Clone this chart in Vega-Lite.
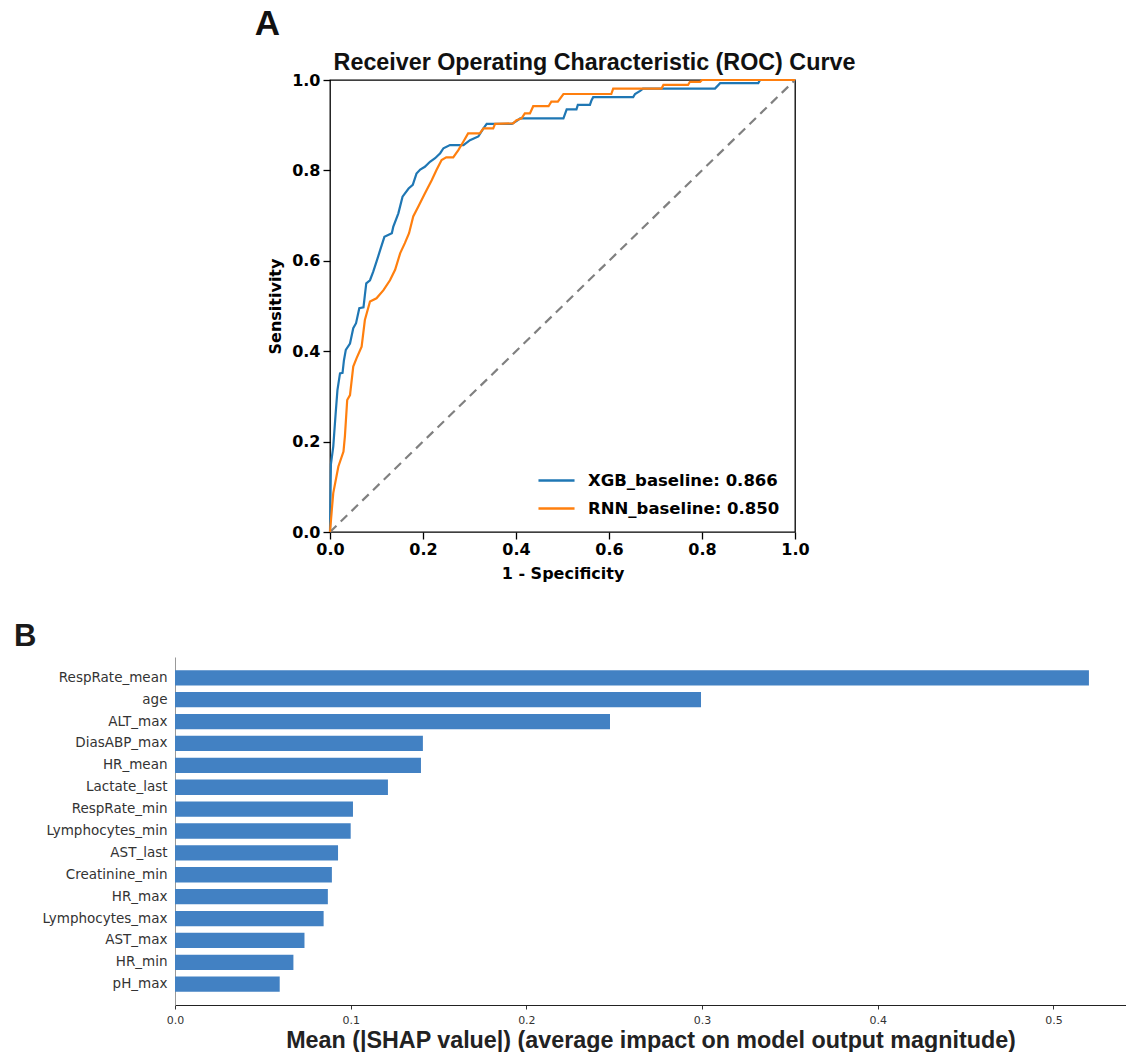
{
  "$schema": "https://vega.github.io/schema/vega-lite/v6.json",
  "background": "white",
  "padding": {"left": 14, "top": 7, "right": 0, "bottom": 0},
  "datasets": {
    "roc": [
      {"model": "XGB_baseline: 0.866", "fpr": 0.0, "tpr": 0.0},
      {"model": "XGB_baseline: 0.866", "fpr": 0.002, "tpr": 0.15},
      {"model": "XGB_baseline: 0.866", "fpr": 0.007, "tpr": 0.189},
      {"model": "XGB_baseline: 0.866", "fpr": 0.012, "tpr": 0.26},
      {"model": "XGB_baseline: 0.866", "fpr": 0.016, "tpr": 0.314},
      {"model": "XGB_baseline: 0.866", "fpr": 0.0215, "tpr": 0.351},
      {"model": "XGB_baseline: 0.866", "fpr": 0.027, "tpr": 0.352},
      {"model": "XGB_baseline: 0.866", "fpr": 0.03, "tpr": 0.38},
      {"model": "XGB_baseline: 0.866", "fpr": 0.034, "tpr": 0.403},
      {"model": "XGB_baseline: 0.866", "fpr": 0.043, "tpr": 0.417},
      {"model": "XGB_baseline: 0.866", "fpr": 0.05, "tpr": 0.451},
      {"model": "XGB_baseline: 0.866", "fpr": 0.056, "tpr": 0.462},
      {"model": "XGB_baseline: 0.866", "fpr": 0.063, "tpr": 0.495},
      {"model": "XGB_baseline: 0.866", "fpr": 0.072, "tpr": 0.497},
      {"model": "XGB_baseline: 0.866", "fpr": 0.075, "tpr": 0.524},
      {"model": "XGB_baseline: 0.866", "fpr": 0.078, "tpr": 0.55},
      {"model": "XGB_baseline: 0.866", "fpr": 0.086, "tpr": 0.557},
      {"model": "XGB_baseline: 0.866", "fpr": 0.093, "tpr": 0.576},
      {"model": "XGB_baseline: 0.866", "fpr": 0.1, "tpr": 0.598},
      {"model": "XGB_baseline: 0.866", "fpr": 0.108, "tpr": 0.624},
      {"model": "XGB_baseline: 0.866", "fpr": 0.117, "tpr": 0.653},
      {"model": "XGB_baseline: 0.866", "fpr": 0.133, "tpr": 0.661},
      {"model": "XGB_baseline: 0.866", "fpr": 0.136, "tpr": 0.675},
      {"model": "XGB_baseline: 0.866", "fpr": 0.147, "tpr": 0.705},
      {"model": "XGB_baseline: 0.866", "fpr": 0.156, "tpr": 0.742},
      {"model": "XGB_baseline: 0.866", "fpr": 0.169, "tpr": 0.76},
      {"model": "XGB_baseline: 0.866", "fpr": 0.178, "tpr": 0.768},
      {"model": "XGB_baseline: 0.866", "fpr": 0.186, "tpr": 0.793},
      {"model": "XGB_baseline: 0.866", "fpr": 0.194, "tpr": 0.802},
      {"model": "XGB_baseline: 0.866", "fpr": 0.204, "tpr": 0.808},
      {"model": "XGB_baseline: 0.866", "fpr": 0.215, "tpr": 0.819},
      {"model": "XGB_baseline: 0.866", "fpr": 0.226, "tpr": 0.827},
      {"model": "XGB_baseline: 0.866", "fpr": 0.237, "tpr": 0.838},
      {"model": "XGB_baseline: 0.866", "fpr": 0.244, "tpr": 0.849},
      {"model": "XGB_baseline: 0.866", "fpr": 0.258, "tpr": 0.856},
      {"model": "XGB_baseline: 0.866", "fpr": 0.287, "tpr": 0.856},
      {"model": "XGB_baseline: 0.866", "fpr": 0.301, "tpr": 0.867},
      {"model": "XGB_baseline: 0.866", "fpr": 0.319, "tpr": 0.875},
      {"model": "XGB_baseline: 0.866", "fpr": 0.33, "tpr": 0.893},
      {"model": "XGB_baseline: 0.866", "fpr": 0.337, "tpr": 0.903},
      {"model": "XGB_baseline: 0.866", "fpr": 0.391, "tpr": 0.903},
      {"model": "XGB_baseline: 0.866", "fpr": 0.401, "tpr": 0.909},
      {"model": "XGB_baseline: 0.866", "fpr": 0.409, "tpr": 0.915},
      {"model": "XGB_baseline: 0.866", "fpr": 0.502, "tpr": 0.915},
      {"model": "XGB_baseline: 0.866", "fpr": 0.509, "tpr": 0.935},
      {"model": "XGB_baseline: 0.866", "fpr": 0.53, "tpr": 0.935},
      {"model": "XGB_baseline: 0.866", "fpr": 0.533, "tpr": 0.945},
      {"model": "XGB_baseline: 0.866", "fpr": 0.559, "tpr": 0.945},
      {"model": "XGB_baseline: 0.866", "fpr": 0.562, "tpr": 0.954},
      {"model": "XGB_baseline: 0.866", "fpr": 0.566, "tpr": 0.962},
      {"model": "XGB_baseline: 0.866", "fpr": 0.652, "tpr": 0.962},
      {"model": "XGB_baseline: 0.866", "fpr": 0.656, "tpr": 0.969},
      {"model": "XGB_baseline: 0.866", "fpr": 0.667, "tpr": 0.976},
      {"model": "XGB_baseline: 0.866", "fpr": 0.673, "tpr": 0.981},
      {"model": "XGB_baseline: 0.866", "fpr": 0.828, "tpr": 0.981},
      {"model": "XGB_baseline: 0.866", "fpr": 0.839, "tpr": 0.993},
      {"model": "XGB_baseline: 0.866", "fpr": 0.921, "tpr": 0.993},
      {"model": "XGB_baseline: 0.866", "fpr": 0.925, "tpr": 1.0},
      {"model": "XGB_baseline: 0.866", "fpr": 1.0, "tpr": 1.0},
      {"model": "RNN_baseline: 0.850", "fpr": 0.0, "tpr": 0.0},
      {"model": "RNN_baseline: 0.850", "fpr": 0.004, "tpr": 0.05},
      {"model": "RNN_baseline: 0.850", "fpr": 0.007, "tpr": 0.086},
      {"model": "RNN_baseline: 0.850", "fpr": 0.018, "tpr": 0.145},
      {"model": "RNN_baseline: 0.850", "fpr": 0.029, "tpr": 0.178},
      {"model": "RNN_baseline: 0.850", "fpr": 0.032, "tpr": 0.211},
      {"model": "RNN_baseline: 0.850", "fpr": 0.037, "tpr": 0.292},
      {"model": "RNN_baseline: 0.850", "fpr": 0.043, "tpr": 0.303},
      {"model": "RNN_baseline: 0.850", "fpr": 0.05, "tpr": 0.366},
      {"model": "RNN_baseline: 0.850", "fpr": 0.057, "tpr": 0.384},
      {"model": "RNN_baseline: 0.850", "fpr": 0.068, "tpr": 0.41},
      {"model": "RNN_baseline: 0.850", "fpr": 0.075, "tpr": 0.469},
      {"model": "RNN_baseline: 0.850", "fpr": 0.086, "tpr": 0.51},
      {"model": "RNN_baseline: 0.850", "fpr": 0.1, "tpr": 0.517},
      {"model": "RNN_baseline: 0.850", "fpr": 0.115, "tpr": 0.535},
      {"model": "RNN_baseline: 0.850", "fpr": 0.129, "tpr": 0.557},
      {"model": "RNN_baseline: 0.850", "fpr": 0.14, "tpr": 0.58},
      {"model": "RNN_baseline: 0.850", "fpr": 0.151, "tpr": 0.617},
      {"model": "RNN_baseline: 0.850", "fpr": 0.161, "tpr": 0.639},
      {"model": "RNN_baseline: 0.850", "fpr": 0.17, "tpr": 0.661},
      {"model": "RNN_baseline: 0.850", "fpr": 0.179, "tpr": 0.698},
      {"model": "RNN_baseline: 0.850", "fpr": 0.19, "tpr": 0.72},
      {"model": "RNN_baseline: 0.850", "fpr": 0.204, "tpr": 0.749},
      {"model": "RNN_baseline: 0.850", "fpr": 0.219, "tpr": 0.779},
      {"model": "RNN_baseline: 0.850", "fpr": 0.229, "tpr": 0.801},
      {"model": "RNN_baseline: 0.850", "fpr": 0.24, "tpr": 0.823},
      {"model": "RNN_baseline: 0.850", "fpr": 0.25, "tpr": 0.829},
      {"model": "RNN_baseline: 0.850", "fpr": 0.265, "tpr": 0.829},
      {"model": "RNN_baseline: 0.850", "fpr": 0.276, "tpr": 0.845},
      {"model": "RNN_baseline: 0.850", "fpr": 0.287, "tpr": 0.864},
      {"model": "RNN_baseline: 0.850", "fpr": 0.297, "tpr": 0.882},
      {"model": "RNN_baseline: 0.850", "fpr": 0.322, "tpr": 0.882},
      {"model": "RNN_baseline: 0.850", "fpr": 0.33, "tpr": 0.893},
      {"model": "RNN_baseline: 0.850", "fpr": 0.351, "tpr": 0.893},
      {"model": "RNN_baseline: 0.850", "fpr": 0.355, "tpr": 0.903},
      {"model": "RNN_baseline: 0.850", "fpr": 0.394, "tpr": 0.904},
      {"model": "RNN_baseline: 0.850", "fpr": 0.401, "tpr": 0.911},
      {"model": "RNN_baseline: 0.850", "fpr": 0.412, "tpr": 0.915},
      {"model": "RNN_baseline: 0.850", "fpr": 0.419, "tpr": 0.926},
      {"model": "RNN_baseline: 0.850", "fpr": 0.43, "tpr": 0.926},
      {"model": "RNN_baseline: 0.850", "fpr": 0.437, "tpr": 0.942},
      {"model": "RNN_baseline: 0.850", "fpr": 0.47, "tpr": 0.942},
      {"model": "RNN_baseline: 0.850", "fpr": 0.476, "tpr": 0.952},
      {"model": "RNN_baseline: 0.850", "fpr": 0.49, "tpr": 0.952},
      {"model": "RNN_baseline: 0.850", "fpr": 0.502, "tpr": 0.969},
      {"model": "RNN_baseline: 0.850", "fpr": 0.605, "tpr": 0.969},
      {"model": "RNN_baseline: 0.850", "fpr": 0.609, "tpr": 0.981},
      {"model": "RNN_baseline: 0.850", "fpr": 0.713, "tpr": 0.981},
      {"model": "RNN_baseline: 0.850", "fpr": 0.717, "tpr": 0.989},
      {"model": "RNN_baseline: 0.850", "fpr": 0.77, "tpr": 0.989},
      {"model": "RNN_baseline: 0.850", "fpr": 0.774, "tpr": 0.996},
      {"model": "RNN_baseline: 0.850", "fpr": 0.796, "tpr": 0.996},
      {"model": "RNN_baseline: 0.850", "fpr": 0.8, "tpr": 1.0},
      {"model": "RNN_baseline: 0.850", "fpr": 1.0, "tpr": 1.0}
    ],
    "diag": [
      {"fpr": 0, "tpr": 0},
      {"fpr": 1, "tpr": 1}
    ],
    "shap": [
      {"feature": "RespRate_mean", "value": 0.5202},
      {"feature": "age", "value": 0.2994},
      {"feature": "ALT_max", "value": 0.2476},
      {"feature": "DiasABP_max", "value": 0.1411},
      {"feature": "HR_mean", "value": 0.1400},
      {"feature": "Lactate_last", "value": 0.1212},
      {"feature": "RespRate_min", "value": 0.1013},
      {"feature": "Lymphocytes_min", "value": 0.1000},
      {"feature": "AST_last", "value": 0.0928},
      {"feature": "Creatinine_min", "value": 0.0893},
      {"feature": "HR_max", "value": 0.0870},
      {"feature": "Lymphocytes_max", "value": 0.0846},
      {"feature": "AST_max", "value": 0.0737},
      {"feature": "HR_min", "value": 0.0674},
      {"feature": "pH_max", "value": 0.0596}
    ]
  },
  "columns": 1,
  "spacing": 39,
  "resolve": {"scale": {"color": "independent"}, "legend": {"color": "independent"}},
  "concat": [
    {
      "spacing": 0,
      "bounds": "flush",
      "resolve": {"scale": {"color": "independent"}, "legend": {"color": "independent"}},
      "hconcat": [
        {
          "width": 155,
          "height": 452,
          "data": {"name": "diag"},
          "mark": {"type": "point", "opacity": 0},
          "encoding": {},
          "view": {"stroke": null},
          "title": {"text": "A", "anchor": "end", "dx": -50, "offset": 38, "font": "Liberation Sans", "fontSize": 35, "fontWeight": "bold", "color": "#111111"}
        },
        {
          "width": 465,
          "height": 452,
          "view": {"stroke": "black", "strokeWidth": 1.3},
          "title": {"text": "Receiver Operating Characteristic (ROC) Curve", "anchor": "middle", "dx": 32, "offset": -3, "font": "Liberation Sans", "fontSize": 23.3, "fontWeight": "bold", "color": "#111111"},
          "layer": [
            {
              "data": {"name": "diag"},
              "mark": {"type": "line", "color": "#808080", "strokeDash": [9, 6], "strokeWidth": 2.2},
              "encoding": {
                "x": {"field": "fpr", "type": "quantitative"},
                "y": {"field": "tpr", "type": "quantitative"}
              }
            },
            {
              "data": {"name": "roc"},
              "mark": {"type": "line", "strokeWidth": 2.2},
              "encoding": {
                "x": {"field": "fpr", "type": "quantitative", "scale": {"domain": [0, 1], "nice": false},
                  "axis": {"title": "1 - Specificity", "values": [0, 0.2, 0.4, 0.6, 0.8, 1.0], "format": ".1f", "grid": false, "domain": false,
                    "tickColor": "black", "tickSize": 7, "tickWidth": 1.3, "labelFlush": false, "labelOverlap": false,
                    "labelFont": "DejaVu Sans", "labelFontWeight": "bold", "labelFontSize": 16, "labelColor": "black", "labelPadding": 2,
                    "titleFont": "DejaVu Sans", "titleFontWeight": "bold", "titleFontSize": 16, "titleColor": "black", "titlePadding": 8}},
                "y": {"field": "tpr", "type": "quantitative", "scale": {"domain": [0, 1], "nice": false},
                  "axis": {"title": "Sensitivity", "values": [0, 0.2, 0.4, 0.6, 0.8, 1.0], "format": ".1f", "grid": false, "domain": false,
                    "tickColor": "black", "tickSize": 7, "tickWidth": 1.3, "labelFlush": false, "labelOverlap": false,
                    "labelFont": "DejaVu Sans", "labelFontWeight": "bold", "labelFontSize": 16, "labelColor": "black", "labelPadding": 3,
                    "titleFont": "DejaVu Sans", "titleFontWeight": "bold", "titleFontSize": 16, "titleColor": "black", "titlePadding": 8}},
                "color": {"field": "model", "type": "nominal",
                  "scale": {"domain": ["XGB_baseline: 0.866", "RNN_baseline: 0.850"], "range": ["#1f77b4", "#ff7f0e"]},
                  "legend": {"title": null, "orient": "bottom-right", "offset": 15, "padding": 0, "symbolType": "stroke", "symbolSize": 1300, "symbolStrokeWidth": 2.4,
                    "labelFont": "DejaVu Sans", "labelFontWeight": "bold", "labelFontSize": 16.5, "labelColor": "black", "labelOffset": 12, "labelLimit": 400, "rowPadding": -6}},
                "order": [{"field": "fpr", "type": "quantitative"}, {"field": "tpr", "type": "quantitative"}]
              }
            }
          ]
        }
      ]
    },
    {
      "width": 951,
      "height": 348,
      "data": {"name": "shap"},
      "view": {"stroke": null},
      "title": {"text": "B", "anchor": "start", "frame": "group", "dx": -161, "offset": 4, "font": "Liberation Sans", "fontSize": 31, "fontWeight": "bold", "color": "#1a1a1a"},
      "mark": {"type": "bar", "color": "#4281c3"},
      "encoding": {
        "y": {"field": "feature", "type": "nominal", "sort": null,
          "scale": {"paddingInner": 0.3, "paddingOuter": 0.6},
          "axis": {"title": null, "ticks": false, "labelFont": "DejaVu Sans", "labelFontSize": 13.5, "labelColor": "#333333", "labelPadding": 8, "domainColor": "#999999", "domainWidth": 1}},
        "x": {"field": "value", "type": "quantitative", "scale": {"domain": [0, 0.5413], "nice": false},
          "axis": {"values": [0, 0.1, 0.2, 0.3, 0.4, 0.5], "format": ".1f", "grid": false, "tickSize": 4, "tickColor": "#333333", "domainColor": "#222222", "domainWidth": 1.2,
            "labelFont": "DejaVu Sans", "labelFontSize": 11, "labelColor": "#333333", "labelPadding": 5, "labelFlush": false,
            "title": "Mean (|SHAP value|) (average impact on model output magnitude)", "titleFont": "Liberation Sans", "titleFontWeight": "bold", "titleFontSize": 23.3, "titleColor": "#222222", "titlePadding": 4}}
      }
    }
  ],
  "config": {
    "font": "DejaVu Sans",
    "view": {"stroke": null},
    "axis": {"grid": false}
  }
}
